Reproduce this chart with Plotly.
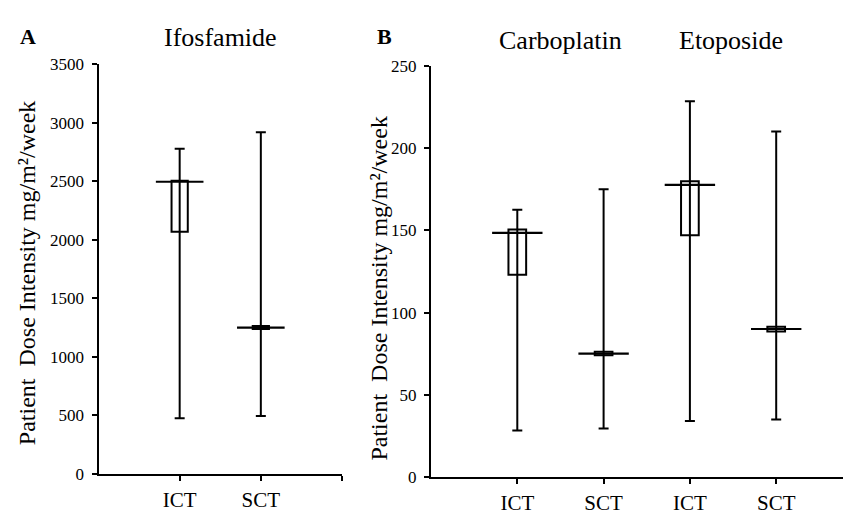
import plotly.graph_objects as go

# ---------------- data ----------------
categories_A = ["ICT", "SCT"]
ifos_min = [475, 495]
ifos_q1 = [2070, 1238]
ifos_median = [2497, 1250]
ifos_q3 = [2505, 1263]
ifos_max = [2780, 2920]

categories_B = ["ICT", "SCT", "ICT", "SCT"]
drugs_B = ["Carboplatin", "Carboplatin", "Etoposide", "Etoposide"]
b_min = [28.3, 29.5, 34.0, 35.0]
b_q1 = [123.0, 74.0, 147.0, 88.5]
b_median = [148.5, 75.0, 177.6, 90.0]
b_q3 = [150.5, 76.2, 179.8, 91.4]
b_max = [162.5, 175.0, 228.5, 210.0]

yticks_A = [0, 500, 1000, 1500, 2000, 2500, 3000, 3500]
yticks_B = [0, 50, 100, 150, 200, 250]

FONT = "Liberation Serif"
W, H = 851, 514

fig = go.Figure()


def add_panel(fig, cats, mn, q1, q3, med, mx, xref, yref, boxw, medlen):
    xs = [i + 1 for i in range(len(cats))]
    fig.add_trace(go.Bar(
        x=xs, y=[b - a for a, b in zip(q1, q3)], base=q1, width=boxw,
        marker=dict(color="rgba(0,0,0,0)", line=dict(color="black", width=2)),
        xaxis=xref, yaxis=yref, showlegend=False, hoverinfo="skip"))
    fig.add_trace(go.Scatter(
        x=xs, y=med, mode="markers",
        marker=dict(symbol="line-ew", size=medlen, color="black",
                    line=dict(color="black", width=2.2)),
        error_y=dict(type="data", symmetric=False,
                     array=[b - m for m, b in zip(med, mx)],
                     arrayminus=[m - a for m, a in zip(med, mn)],
                     color="black", thickness=2, width=5),
        xaxis=xref, yaxis=yref, showlegend=False, hoverinfo="skip"))


add_panel(fig, categories_A, ifos_min, ifos_q1, ifos_q3, ifos_median, ifos_max,
          "x", "y", 0.2, 34)
add_panel(fig, categories_B, b_min, b_q1, b_q3, b_median, b_max,
          "x2", "y2", 0.205, 36)

axis_common = dict(showline=True, linecolor="black", linewidth=2, mirror=False,
                   ticks="outside", ticklen=5, tickwidth=2, tickcolor="black",
                   showgrid=False, zeroline=False,
                   tickfont=dict(family=FONT, size=17, color="black"))

xA0, xA1 = 90.5, 334.0
xB0, xB1 = 423.0, 844.0
yA0, yA1 = 474.3, 49.3
yB0, yB1 = 477.7, 50.7

xB_end = (xB1 - xB0) / 86.3

fig.update_layout(
    width=W, height=H, margin=dict(l=0, r=0, t=0, b=0),
    paper_bgcolor="white", plot_bgcolor="white", barmode="overlay",
    xaxis=dict(axis_common, domain=[xA0 / W, xA1 / W], range=[0, 3],
               tickvals=[1, 2, 3], ticktext=categories_A + [""],
               tickfont=dict(family=FONT, size=21, color="black"),
               ticklabelstandoff=1, anchor="y"),
    yaxis=dict(axis_common, domain=[1 - yA0 / H, 1 - yA1 / H], range=[0, 3500],
               tickvals=yticks_A, anchor="x", ticklabelstandoff=4),
    xaxis2=dict(axis_common, domain=[xB0 / W, xB1 / W], range=[0, xB_end],
                tickvals=[1, 2, 3, 4, xB_end], ticktext=categories_B + [""],
                tickfont=dict(family=FONT, size=21, color="black"),
                ticklabelstandoff=1, anchor="y2"),
    yaxis2=dict(axis_common, domain=[1 - yB0 / H, 1 - yB1 / H], range=[0, 250],
                tickvals=yticks_B, anchor="x2", ticklabelstandoff=4),
)

ytitle = "Patient  Dose Intensity mg/m²/week"


def ann(text, x, y, size, bold=False, angle=0):
    fig.add_annotation(
        text=("<b>%s</b>" % text) if bold else text,
        x=x / W, y=1 - y / H, xref="paper", yref="paper",
        xanchor="center", yanchor="middle", showarrow=False, textangle=angle,
        font=dict(family=FONT, size=size, color="black"))


ann("A", 20, 20, 22, bold=True)
ann("B", 376, 20, 22, bold=True)
ann("Ifosfamide", 212, 21, 26)
ann(drugs_B[0], 552, 24, 26)
ann(drugs_B[2], 723, 24, 26)
ann(ytitle, 19, 266, 24, angle=-90)
ann(ytitle, 371, 282, 24, angle=-90)

fig.write_html("out.html")
